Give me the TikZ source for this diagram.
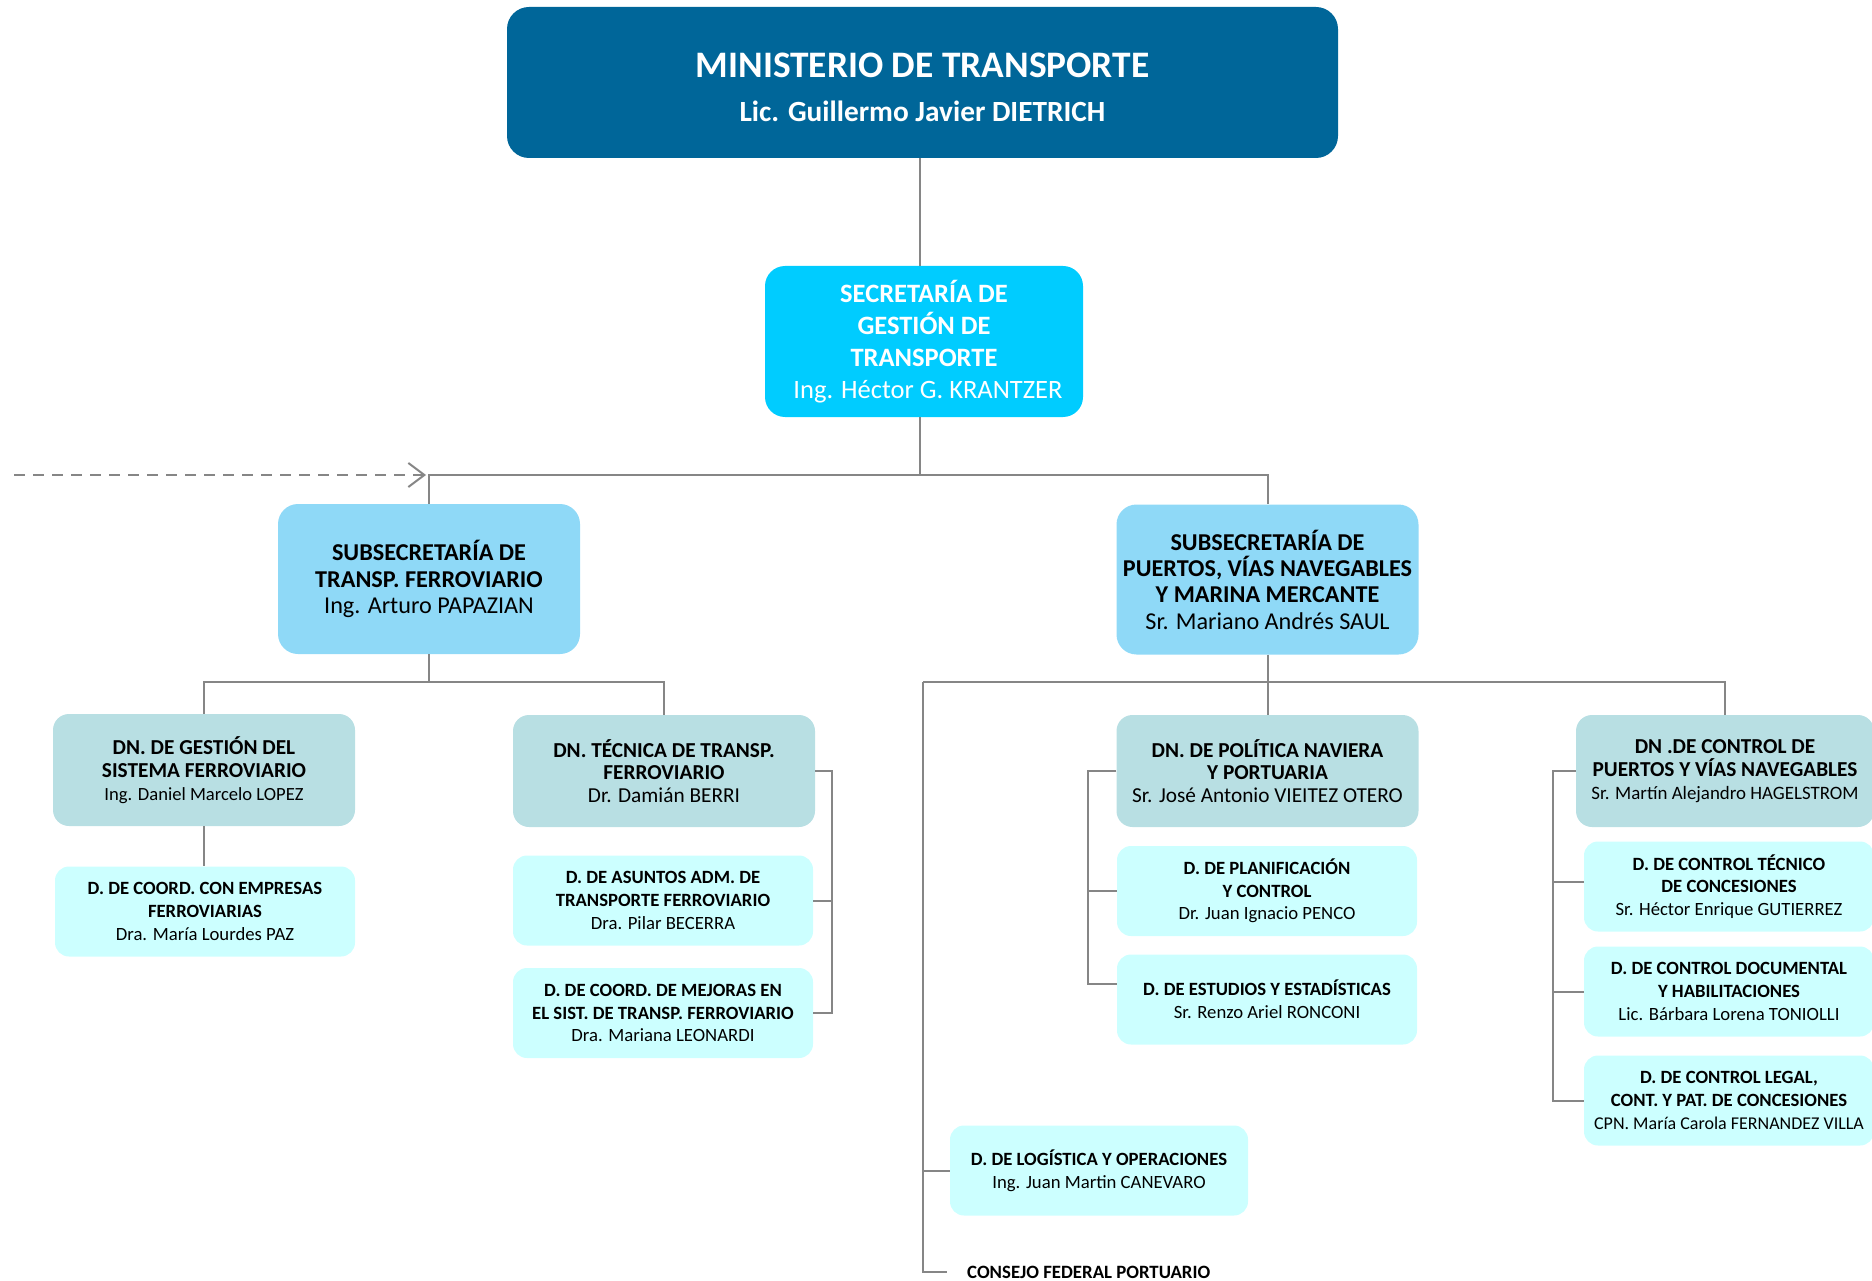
\documentclass[tikz,border=0pt]{standalone}
\usepackage{fontspec}
\setmainfont{Carlito}
\usetikzlibrary{arrows.meta}
\definecolor{cMin}{RGB}{0,102,153}
\definecolor{cSec}{RGB}{0,204,255}
\definecolor{cSub}{RGB}{143,217,247}
\definecolor{cDN}{RGB}{184,223,227}
\definecolor{cD}{RGB}{204,255,255}
\definecolor{cLine}{RGB}{134,134,134}
\begin{document}
\begin{tikzpicture}[x=1pt,y=-1pt,
  boxbase/.style={rectangle, inner sep=0pt, align=center, text=black},
  minbox/.style={boxbase, fill=cMin, rounded corners=22pt, minimum width=831pt, minimum height=151pt, text=white, font=\fontsize{29.3}{44}\selectfont\bfseries},
  secbox/.style={boxbase, fill=cSec, rounded corners=20pt, minimum width=318pt, minimum height=151pt, text=white, font=\fontsize{26.5}{32}\selectfont},
  subbox/.style={boxbase, fill=cSub, rounded corners=20pt, minimum width=302pt, minimum height=150pt, font=\fontsize{24.2}{26.3}\selectfont},
  dnbox/.style={boxbase, fill=cDN, rounded corners=16pt, minimum width=302pt, minimum height=112pt, font=\fontsize{21.3}{22.8}\selectfont},
  dbox/.style={boxbase, fill=cD, rounded corners=14pt, minimum width=300pt, minimum height=90pt, font=\fontsize{18.7}{22.7}\selectfont},
  conn/.style={draw=cLine, line width=2pt},
  dashconn/.style={draw=cLine, line width=2pt, dash pattern=on 11pt off 8pt, -{Straight Barb[length=16pt,width=24pt,line width=2pt]}}
]
\useasboundingbox (0,0) rectangle (1872,1281);

% boxes
\node[minbox] (min) at (922.5,82.5) {\rule{0pt}{34pt}{\fontsize{37.4}{44}\selectfont MINISTERIO DE TRANSPORTE}\\Lic. Guillermo Javier DIETRICH};
\node[secbox] (sec) at (924,341.5) {\textbf{SECRETARÍA DE}\\\textbf{GESTIÓN DE}\\\textbf{TRANSPORTE}\\\hspace*{8pt}Ing. Héctor G. KRANTZER};

\node[subbox] (subF) at (429,579) {\textbf{SUBSECRETARÍA DE}\\\textbf{TRANSP. FERROVIARIO}\\Ing. Arturo PAPAZIAN};
\node[subbox] (subP) at (1267.5,579.5) {\textbf{SUBSECRETARÍA DE}\\\textbf{PUERTOS, VÍAS NAVEGABLES}\\\textbf{Y MARINA MERCANTE}\\Sr. Mariano Andrés SAUL};

\node[dnbox] (dnG) at (204,770) {\textbf{DN. DE GESTIÓN DEL}\\\textbf{SISTEMA FERROVIARIO}\\{\fontsize{18.6}{22.8}\selectfont Ing. Daniel Marcelo LOPEZ}};
\node[dnbox] (dnT) at (664,771) {\textbf{DN. TÉCNICA DE TRANSP.}\\\textbf{FERROVIARIO}\\Dr. Damián BERRI};
\node[dnbox] (dnP) at (1267.5,771) {\textbf{DN. DE POLÍTICA NAVIERA}\\\textbf{Y PORTUARIA}\\Sr. José Antonio VIEITEZ OTERO};
\node[dnbox, minimum width=298pt] (dnC) at (1725,771) {\textbf{DN .DE CONTROL DE}\\\textbf{PUERTOS Y VÍAS NAVEGABLES}\\{\fontsize{18.9}{22.8}\selectfont Sr. Martín Alejandro HAGELSTROM}};

\node[dbox] (dcoord) at (205,911.5) {\textbf{D. DE COORD. CON EMPRESAS}\\\textbf{FERROVIARIAS}\\Dra. María Lourdes PAZ};
\node[dbox] (dasu) at (663,900.5) {\textbf{D. DE ASUNTOS ADM. DE}\\\textbf{TRANSPORTE FERROVIARIO}\\Dra. Pilar BECERRA};
\node[dbox] (dmej) at (663,1013) {\textbf{D. DE COORD. DE MEJORAS EN}\\\textbf{EL SIST. DE TRANSP. FERROVIARIO}\\Dra. Mariana LEONARDI};
\node[dbox] (dpla) at (1267,891) {\textbf{D. DE PLANIFICACIÓN}\\\textbf{Y CONTROL}\\Dr. Juan Ignacio PENCO};
\node[dbox] (dest) at (1267,999.5) {\textbf{D. DE ESTUDIOS Y ESTADÍSTICAS}\\Sr. Renzo Ariel RONCONI};
\node[dbox, minimum width=290pt] (dtec) at (1729,886.5) {\textbf{D. DE CONTROL TÉCNICO}\\\textbf{DE CONCESIONES}\\Sr. Héctor Enrique GUTIERREZ};
\node[dbox, minimum width=290pt] (ddoc) at (1729,991.5) {\textbf{D. DE CONTROL DOCUMENTAL}\\\textbf{Y HABILITACIONES}\\Lic. Bárbara Lorena TONIOLLI};
\node[dbox, minimum width=290pt] (dleg) at (1729,1100.5) {\textbf{D. DE CONTROL LEGAL,}\\\textbf{CONT. Y PAT. DE CONCESIONES}\\{\fontsize{18}{22.7}\selectfont CPN. María Carola FERNANDEZ VILLA}};
\node[dbox, minimum width=298pt] (dlog) at (1099,1170.5) {\textbf{D. DE LOGÍSTICA Y OPERACIONES}\\Ing. Juan Martin CANEVARO};
\node[anchor=west, inner xsep=20pt, inner ysep=0pt, font=\fontsize{18.8}{22}\selectfont\bfseries] (cfp) at (947,1272) {CONSEJO FEDERAL PORTUARIO};

% helper coordinates
\coordinate (vx) at (920,0);
\coordinate (bus1) at (0,475);
\coordinate (bus2) at (0,682);
\coordinate (dstart) at (14,475);
\coordinate (lv) at (923,682);
\coordinate (bT) at (832,0);
\coordinate (bP) at (1088,0);
\coordinate (bC) at (1553,0);

% connectors
\draw[conn] (vx |- min.south) -- (vx |- sec.north);
\draw[conn] (vx |- sec.south) -- (vx |- bus1);
\draw[conn] (subF.north) |- (subP.north |- bus1) -- (subP.north);
\draw[dashconn] (dstart) -- ([xshift=-3pt]subF.north |- bus1);

\draw[conn] (subF.south) -- (subF.south |- bus2);
\draw[conn] (dnG.north) |- (dnT.north |- bus2) -- (dnT.north);
\draw[conn] (dnG.south) -- (dnG.south |- dcoord.north);
\draw[conn] (dnT.east) -- (dnT.east -| bT) -- (dmej.east -| bT) -- (dmej.east);
\draw[conn] (dasu.east) -- (dasu.east -| bT);

\draw[conn] (subP.south) -- (subP.south |- bus2);
\draw[conn] (lv) -- (dnC.north |- bus2) -- (dnC.north);
\draw[conn] (dnP.north) -- (dnP.north |- bus2);
\draw[conn] (lv) |- (dlog.west);
\draw[conn] (lv) |- (cfp.west);

\draw[conn] (dnP.west) -- (dnP.west -| bP) -- ([yshift=16pt]dest.west -| bP) -- ([yshift=16pt]dest.west);
\draw[conn] (dpla.west) -- (dpla.west -| bP);

\draw[conn] (dnC.west) -- (dnC.west -| bC) -- (dleg.west -| bC) -- (dleg.west);
\draw[conn] ([yshift=5pt]dtec.west) -- ([yshift=5pt]dtec.west -| bC);
\draw[conn] (ddoc.west) -- (ddoc.west -| bC);
\end{tikzpicture}
\end{document}
